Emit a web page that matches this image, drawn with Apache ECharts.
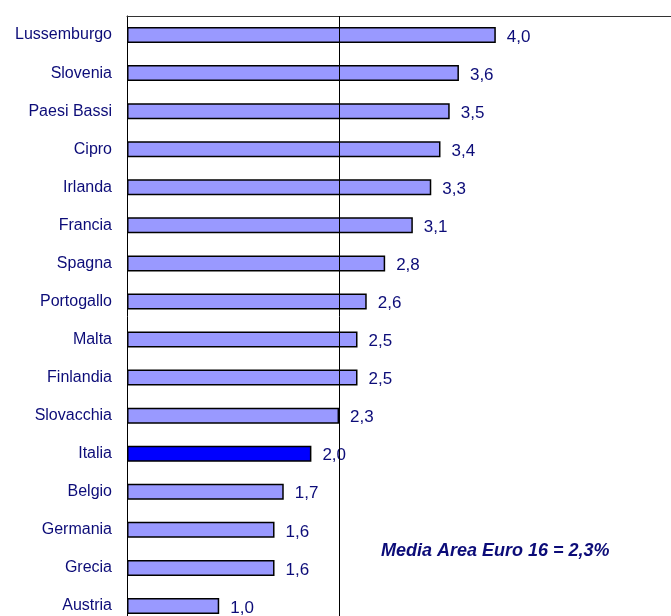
<!DOCTYPE html>
<html>
<head>
<meta charset="utf-8">
<script src="https://cdn.jsdelivr.net/npm/echarts@6/dist/echarts.min.js"></script>
<style>
  html, body { margin: 0; padding: 0; background: #fff; }
  #chart { width: 671px; height: 616px; }
</style>
</head>
<body>
<div id="chart"></div>
<script>
// paesi, dall'alto verso il basso
const countries = ['Lussemburgo', 'Slovenia', 'Paesi Bassi', 'Cipro', 'Irlanda', 'Francia', 'Spagna',
  'Portogallo', 'Malta', 'Finlandia', 'Slovacchia', 'Italia', 'Belgio', 'Germania', 'Grecia', 'Austria']
const values = [4.0, 3.6, 3.5, 3.4, 3.3, 3.1, 2.8, 2.6, 2.5, 2.5, 2.3, 2.0, 1.7, 1.6, 1.6, 1.0]
const highlight = 'Italia'
const euroAverage = 2.3
const noteText = 'Media Area Euro 16 = 2,3%'

const navy = '#0c0c78'
const chart = echarts.init(document.getElementById('chart'))

const option = {
  animation: false,
  backgroundColor: '#fff',
  textStyle: { fontFamily: 'Liberation Sans, Arial, sans-serif' },
  graphic: [{
    type: 'text',
    left: 381,
    top: 542,
    style: {
      text: noteText,
      fill: navy,
      font: 'italic bold 18px "Liberation Sans", Arial, sans-serif'
    }
  }],
  // altezza fissa: la griglia continua oltre il bordo inferiore
  grid: { left: 127, right: 0, top: 16, height: 609, containLabel: false, outerBoundsMode: 'none' },
  xAxis: {
    type: 'value',
    position: 'top',
    min: 0,
    max: 5.9,
    axisLine: { show: true, lineStyle: { color: '#333', width: 1 } },
    axisTick: { show: false },
    axisLabel: { show: false },
    splitLine: { show: false }
  },
  yAxis: {
    type: 'category',
    inverse: true,
    data: countries,
    axisLine: { show: true, lineStyle: { color: '#000', width: 1 } },
    axisTick: { show: false },
    axisLabel: { color: navy, fontSize: 16, margin: 15 }
  },
  series: [{
    type: 'bar',
    barWidth: 16,
    data: values.map((v, i) => ({
      value: v,
      itemStyle: { color: countries[i] === highlight ? '#0000ff' : '#9999ff' }
    })),
    itemStyle: { borderColor: '#000', borderWidth: 1.5 },
    label: {
      show: true,
      position: 'right',
      distance: 11,
      offset: [0, 2],
      color: navy,
      fontSize: 17,
      formatter: p => p.value.toFixed(1).replace('.', ',')
    },
    markLine: {
      silent: true,
      symbol: 'none',
      label: { show: false },
      lineStyle: { color: '#000', width: 1, type: 'solid' },
      data: [{ xAxis: euroAverage }]
    }
  }]
}

chart.setOption(option)
</script>
</body>
</html>
